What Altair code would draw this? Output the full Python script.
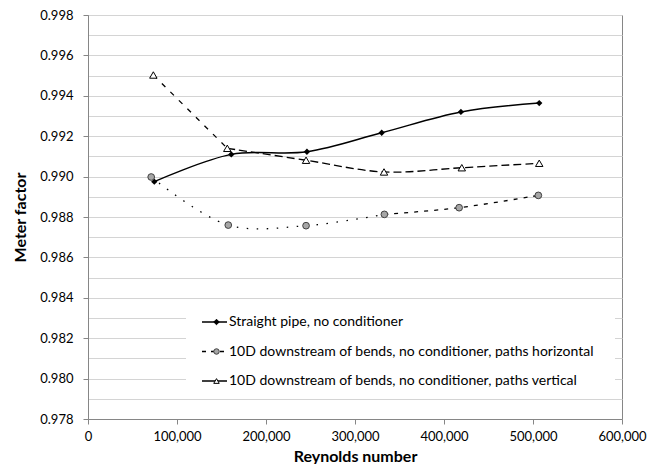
import altair as alt
import pandas as pd

series_names = [
    "Straight pipe, no conditioner",
    "10D downstream of bends, no conditioner, paths horizontal",
    "10D downstream of bends, no conditioner, paths vertical",
]

re_straight = [74500, 161000, 246000, 330000, 419000, 507000]
mf_straight = [0.98975, 0.99110, 0.99123, 0.99217, 0.99320, 0.99364]

re_horiz = [71000, 157600, 245000, 333000, 417000, 506000]
mf_horiz = [0.98998, 0.98760, 0.98757, 0.98813, 0.98846, 0.98907]

re_vert = [73400, 156500, 245000, 332600, 420000, 507000]
mf_vert = [0.99503, 0.99140, 0.99081, 0.99023, 0.99044, 0.99066]

x_ticks = [0, 100000, 200000, 300000, 400000, 500000, 600000]
y_grid = [0.978, 0.979, 0.980, 0.981, 0.982, 0.983, 0.984, 0.985, 0.986,
          0.987, 0.988, 0.989, 0.990, 0.991, 0.992, 0.993, 0.994, 0.995,
          0.996, 0.997, 0.998]

FONT = "Lato"
AX = "#868686"

rows = []
for name, xs, ys in zip(series_names, [re_straight, re_horiz, re_vert],
                        [mf_straight, mf_horiz, mf_vert]):
    for i, (a, b) in enumerate(zip(xs, ys)):
        rows.append({"series": name, "i": i, "re": a, "mf": b})
df = pd.DataFrame(rows)

even = "round(datum.value * 1000) % 2 == 0"

x_enc = alt.X("re:Q", scale=alt.Scale(domain=[0, 600000], nice=False),
              axis=alt.Axis(values=x_ticks, grid=False, labelFlush=False,
                            labelExpr="format(datum.value, ',')",
                            title="Reynolds number", tickSize=5, labelPadding=6,
                            titleY=42, titleBaseline="alphabetic"))
y_enc = alt.Y("mf:Q", scale=alt.Scale(domain=[0.978, 0.998], nice=False, zero=False),
              axis=alt.Axis(values=y_grid, grid=True, labelFlush=False,
                            labelExpr=f"{even} ? format(datum.value, '.3f') : ''",
                            tickColor={"condition": {"test": even, "value": AX},
                                       "value": "transparent"},
                            title="Meter factor", tickSize=5, labelPadding=10,
                            titlePadding=11))

base = alt.Chart(df).encode(x=x_enc, y=y_enc)


def sel(name, lo, hi):
    return f"datum.series == '{name}' && datum.i >= {lo} && datum.i <= {hi}"


interp = "catmull-rom"

line_straight = base.transform_filter(sel(series_names[0], 0, 5)).mark_line(
    color="black", strokeWidth=1.5, interpolate=interp)
line_h1 = base.transform_filter(sel(series_names[1], 0, 3)).mark_line(
    color="black", strokeWidth=1.3, interpolate=interp, strokeDash=[1.5, 8.5])
line_h2 = base.transform_filter(sel(series_names[1], 3, 5)).mark_line(
    color="black", strokeWidth=1.3, interpolate=interp, strokeDash=[4, 6])
line_v1 = base.transform_filter(sel(series_names[2], 0, 1)).mark_line(
    color="black", strokeWidth=1.3, interpolate=interp, strokeDash=[5, 7])
line_v2 = base.transform_filter(sel(series_names[2], 1, 5)).mark_line(
    color="black", strokeWidth=1.3, interpolate=interp, strokeDash=[8, 4])

pt_straight = base.transform_filter(sel(series_names[0], 0, 5)).mark_point(
    shape="diamond", filled=True, color="black", size=40, opacity=1)
pt_h = base.transform_filter(sel(series_names[1], 0, 5)).mark_point(
    shape="circle", filled=True, fill="#a6a6a6", stroke="#404040", strokeWidth=1,
    size=45, opacity=1)
pt_v = base.transform_filter(sel(series_names[2], 0, 5)).mark_point(
    shape="triangle-up", filled=True, fill="white", stroke="black", strokeWidth=1,
    size=55, opacity=1)

main = alt.layer(line_straight, line_h1, line_h2, line_v1, line_v2,
                 pt_straight, pt_h, pt_v)

leg_df = pd.DataFrame({"row": [0, 1, 2], "series": series_names,
                       "label": series_names})
leg_y = alt.Y("row:Q", scale=alt.Scale(domain=[0, 2], range=[307, 366]), axis=None)
leg_base = alt.Chart(leg_df)

leg_bg = alt.Chart(pd.DataFrame({"a": [0]})).mark_rect(fill="white").encode(
    x=alt.value(98), x2=alt.value(527), y=alt.value(285), y2=alt.value(381))
leg_rule = leg_base.mark_rule(color="black", strokeWidth=1.3).encode(
    x=alt.value(114), x2=alt.value(139), y=leg_y,
    strokeDash=alt.StrokeDash("series:N", legend=None,
                              scale=alt.Scale(domain=series_names,
                                              range=[[1, 0], [4, 5], [1, 0]])))
leg_pt = leg_base.mark_point(filled=True, opacity=1, strokeWidth=1).encode(
    x=alt.value(128.5), y=leg_y,
    shape=alt.Shape("series:N", legend=None,
                    scale=alt.Scale(domain=series_names,
                                    range=["diamond", "circle", "triangle-up"])),
    fill=alt.Fill("series:N", legend=None,
                  scale=alt.Scale(domain=series_names,
                                  range=["black", "#a6a6a6", "white"])),
    stroke=alt.Stroke("series:N", legend=None,
                      scale=alt.Scale(domain=series_names,
                                      range=["black", "#404040", "black"])),
    size=alt.Size("series:N", legend=None,
                  scale=alt.Scale(domain=series_names, range=[30, 30, 40])))
leg_text = leg_base.mark_text(align="left", baseline="middle", font=FONT,
                              fontSize=14, color="black").encode(
    x=alt.value(141), y=leg_y, text="label:N")

legend = alt.layer(leg_bg, leg_rule, leg_pt, leg_text)

chart = alt.layer(main, legend).resolve_scale(
    y="independent", shape="independent", fill="independent",
    stroke="independent", size="independent", strokeDash="independent"
).properties(
    width=534, height=404, autosize="none",
    padding={"left": 80, "top": 7, "right": 33, "bottom": 45},
).configure_view(stroke=AX, strokeWidth=1).configure_axis(
    labelFont=FONT, labelFontSize=13, labelColor="black",
    titleFont=FONT, titleFontSize=16, titleFontWeight="bold", titleColor="black",
    domainColor=AX, tickColor=AX, gridColor="#d4d4d4", gridWidth=1,
)

chart.save("out.html", embed_options={"renderer": "svg", "actions": False})
